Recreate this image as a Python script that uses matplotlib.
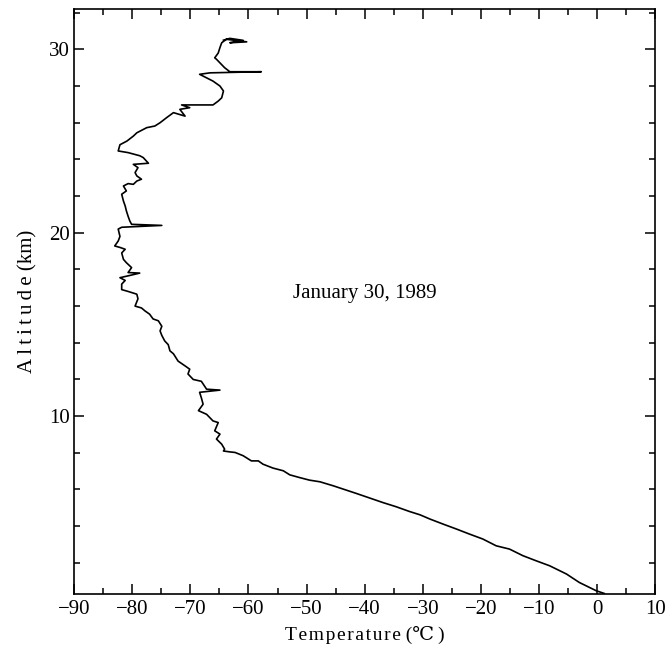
import numpy as np
from matplotlib import pyplot as plt
from matplotlib.ticker import MultipleLocator, FixedLocator

# sounding profile, surface upward (altitude km, temperature C)
altitude = [
    0.33, 0.48, 0.93, 1.39, 1.84, 2.11, 2.39, 2.75, 2.93, 3.30,
    3.57, 3.84, 4.11, 4.39, 4.62, 4.80, 5.06, 5.29, 5.53, 5.78,
    6.02, 6.20, 6.42, 6.51, 6.65, 6.80, 7.02, 7.17, 7.38, 7.56,
    7.56, 7.84, 8.02, 8.05, 8.10, 8.20, 8.47, 8.75, 9.02, 9.20,
    9.65, 9.74, 10.1, 10.3, 10.65, 11.0, 11.3, 11.42, 11.47, 11.75,
    11.9, 12.0, 12.3, 12.56, 12.74, 13.0, 13.4, 13.56, 13.9, 14.1,
    14.4, 14.65, 14.9, 15.2, 15.3, 15.56, 15.74, 15.9, 16.0, 16.4,
    16.65, 16.8, 16.9, 17.2, 17.4, 17.55, 17.65, 17.8, 17.83, 18.1,
    18.37, 18.55, 18.9, 19.1, 19.2, 19.28, 19.55, 19.8, 20.2, 20.3,
    20.4, 20.46, 20.64, 20.9, 21.2, 21.46, 21.73, 22.1, 22.28, 22.55,
    22.68, 22.64, 22.82, 22.92, 23.1, 23.28, 23.55, 23.73, 23.79, 24.1,
    24.2, 24.37, 24.46, 24.8, 25.0, 25.27, 25.45, 25.73, 25.82, 26.0,
    26.27, 26.55, 26.36, 26.73, 26.82, 26.97, 26.97, 27.18, 27.36, 27.73,
    28.0, 28.27, 28.64, 28.72, 28.78, 28.78, 29.0, 29.2, 29.46, 29.54,
    29.8, 30.1, 30.36, 30.55, 30.41, 30.36, 30.49, 30.6, 30.5,
]
temperature = [
    1.2, -0.2, -3.1, -5.3, -8.2, -10.5, -12.8, -15.1, -17.4, -19.7,
    -22.0, -24.2, -26.5, -28.8, -30.5, -32.3, -34.6, -36.9, -39.1, -41.4,
    -43.7, -45.4, -47.7, -49.5, -51.2, -52.9, -54.0, -55.8, -57.5, -58.3,
    -59.5, -60.9, -62.3, -63.2, -64.3, -64.1, -64.6, -65.5, -64.9, -65.8,
    -65.2, -66.1, -67.2, -68.6, -67.8, -68.1, -68.4, -64.9, -67.2, -67.8,
    -68.1, -69.5, -70.4, -70.1, -70.9, -72.1, -72.9, -73.5, -73.8, -74.4,
    -74.9, -75.2, -74.9, -75.5, -76.4, -77.0, -77.8, -78.4, -79.5, -79.0,
    -79.2, -80.7, -81.8, -81.8, -81.2, -82.1, -80.7, -78.7, -80.7, -80.1,
    -81.0, -81.5, -81.8, -81.2, -82.1, -83.0, -82.4, -82.1, -82.4, -81.8,
    -74.9, -80.1, -80.4, -80.7, -81.0, -81.2, -81.5, -81.8, -81.0, -81.5,
    -80.7, -79.8, -79.2, -78.4, -79.2, -79.5, -79.0, -79.8, -77.2, -78.1,
    -78.7, -80.7, -82.4, -82.1, -80.9, -79.8, -79.2, -77.5, -76.1, -75.2,
    -74.1, -72.9, -70.9, -71.8, -70.1, -71.5, -66.1, -65.2, -64.6, -64.3,
    -64.9, -66.1, -68.4, -66.6, -57.8, -63.2, -64.1, -64.7, -65.5, -65.8,
    -65.2, -64.9, -64.6, -63.8, -60.3, -63.2, -60.9, -63.2, -64.3,
]

x_ticks = [-90, -80, -70, -60, -50, -40, -30, -20, -10, 0, 10]
y_ticks = [10, 20, 30]
date_label = 'January 30, 1989'

fonts = ['Liberation Serif', 'DejaVu Serif', 'Noto Sans CJK JP']
plt.rcParams['font.family'] = fonts


def spaced(s, gap='\u200a'):
    # wide letter spacing like the printed original
    return gap.join(s)


fig = plt.figure(figsize=(6.65, 6.49), dpi=100)
ax = fig.add_axes([0.1113, 0.0847, 0.8744, 0.9014])

ax.plot(temperature, altitude, color='black', linewidth=1.2)

ax.set_xlim(-90, 10)
ax.set_ylim(0.3, 32.2)
ax.xaxis.set_major_locator(FixedLocator(x_ticks))
ax.xaxis.set_minor_locator(MultipleLocator(5))
ax.yaxis.set_major_locator(FixedLocator(y_ticks))
ax.yaxis.set_minor_locator(MultipleLocator(2))
ax.set_xticklabels(['\u2212' + str(abs(t)) if t < 0 else str(t) for t in x_ticks])

ax.tick_params(which='both', direction='in', top=True, right=True,
               labelsize=15, width=1.1)
ax.tick_params(which='major', length=7)
ax.tick_params(which='minor', length=4.5)
ax.tick_params(axis='x', pad=4)
ax.tick_params(axis='y', pad=3)

for spine in ax.spines.values():
    spine.set_linewidth(1.2)

ax.set_xlabel(spaced('Temperature') + ' (\u2103\u2009)', fontsize=14, labelpad=5)
ax.set_ylabel(spaced('Altitude', '\u2009') + ' (km)', fontsize=15, labelpad=8)

ax.text(-40, 16.7, date_label, fontsize=15, ha='center', va='center')

fig.savefig('out.png', dpi=100)
